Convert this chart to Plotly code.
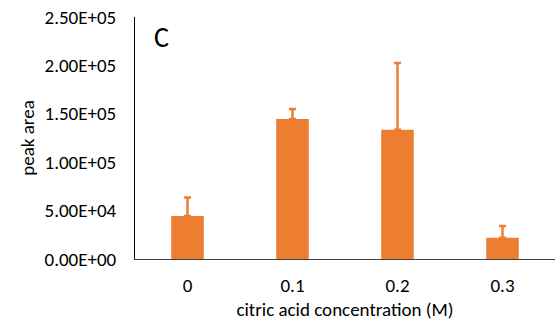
import plotly.graph_objects as go

categories = ["0", "0.1", "0.2", "0.3"]
peak_area = [44500, 144500, 133500, 22000]
error_plus = [19000, 10500, 69000, 12000]
y_tick_vals = [0, 50000, 100000, 150000, 200000, 250000]
y_tick_text = ["0.00E+00", "5.00E+04", "1.00E+05", "1.50E+05", "2.00E+05", "2.50E+05"]

FONT = "Carlito, Calibri, 'Open Sans', sans-serif"
ORANGE = "#ED7D31"

fig = go.Figure()
fig.add_trace(go.Bar(
    x=categories, y=peak_area,
    marker=dict(color=ORANGE, line=dict(width=0)),
    width=0.31,
    error_y=dict(type="data", array=error_plus, symmetric=False,
                 arrayminus=[0, 0, 0, 0], color=ORANGE, thickness=2.5, width=3.5),
))

fig.update_layout(
    width=556, height=324,
    margin=dict(l=135, r=1, t=17, b=65),
    paper_bgcolor="white", plot_bgcolor="white",
    font=dict(family=FONT, size=19, color="#000000"),
    showlegend=False,
    xaxis=dict(
        type="category", automargin=False,
        showline=True, linecolor="#404040", linewidth=1,
        showgrid=False, ticks="", ticklabelstandoff=9,
        tickfont=dict(size=19, family=FONT),
        title=dict(text="citric acid concentration (M)", standoff=6,
                   font=dict(size=19, family=FONT)),
    ),
    yaxis=dict(
        range=[0, 250000], automargin=False,
        tickvals=y_tick_vals, ticktext=y_tick_text,
        ticklabeloverflow="allow",
        showline=True, linecolor="#000000", linewidth=1,
        showgrid=False, ticks="", ticklabelstandoff=14,
        zeroline=False,
        tickfont=dict(size=19, family=FONT),
        title=dict(text="peak area", standoff=4,
                   font=dict(size=19, family=FONT)),
    ),
    annotations=[dict(
        text="C", xref="paper", yref="paper", x=0.04, y=0.915,
        xanchor="left", yanchor="middle", showarrow=False,
        font=dict(size=28, family=FONT, color="#000000"),
    )],
)

# remove the browser's default 8px body margin so the figure fills the window
fig.write_html("out.html", config={"displayModeBar": False},
               post_script="document.body.style.margin='0';")
